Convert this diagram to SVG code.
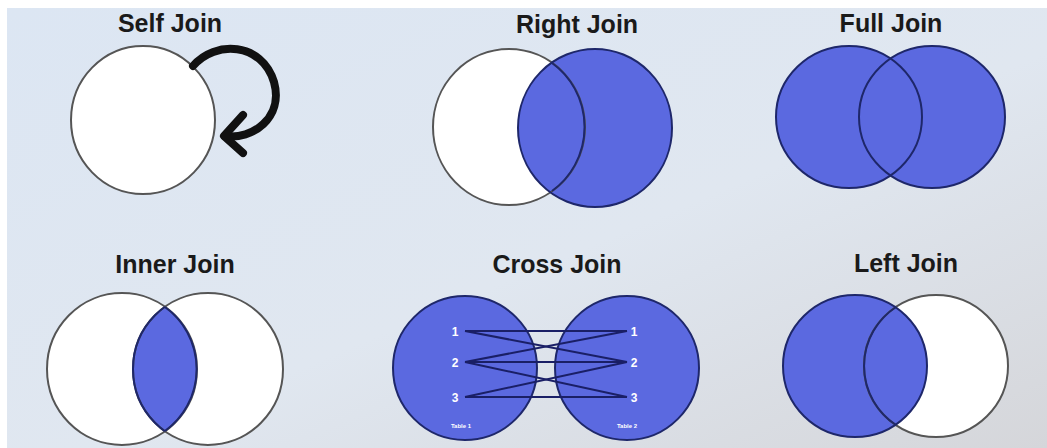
<svg xmlns="http://www.w3.org/2000/svg" width="1047" height="448" viewBox="0 0 1047 448">
  <defs>
    <linearGradient id="bg" x1="0" y1="0" x2="1" y2="1">
      <stop offset="0" stop-color="#dce6f3"/>
      <stop offset="0.55" stop-color="#e0e7f0"/>
      <stop offset="1" stop-color="#d5d6da"/>
    </linearGradient>
    <clipPath id="innerClip"><ellipse cx="122" cy="369" rx="75" ry="76"/></clipPath>
    <style>
      .title { font-family: "Liberation Sans", Arial, sans-serif; font-weight: bold; font-size: 25px; fill: #1a1a1a; text-anchor: middle; }
      .white { fill: #ffffff; }
      .blue { fill: #5b69e0; }
      .wstroke { fill: none; stroke: #555555; stroke-width: 2; }
      .bstroke { fill: none; stroke: #1e276a; stroke-width: 2; }
      .num { font-family: "Liberation Sans", Arial, sans-serif; font-weight: bold; font-size: 12px; fill: #ffffff; text-anchor: middle; }
      .tbl { font-family: "Liberation Sans", Arial, sans-serif; font-weight: bold; font-size: 6px; fill: #ffffff; text-anchor: middle; }
      .cl { stroke: #1a1f66; stroke-width: 2; fill: none; }
    </style>
  </defs>
  <rect width="1047" height="448" fill="#ffffff"/>
  <rect x="7" y="8" width="1040" height="440" fill="url(#bg)"/>

  <g id="self-join">
    <text class="title" x="170" y="32">Self Join</text>
    <ellipse class="white" cx="143" cy="120" rx="72" ry="74"/>
    <ellipse class="wstroke" cx="143" cy="120" rx="72" ry="74"/>
  </g>

  <g id="right-join">
    <text class="title" x="577" y="33">Right Join</text>
    <ellipse class="white" cx="509" cy="127" rx="76" ry="78"/>
    <ellipse class="blue" cx="595" cy="128" rx="77" ry="79"/>
    <ellipse class="wstroke" cx="509" cy="127" rx="76" ry="78"/>
    <ellipse class="bstroke" cx="595" cy="128" rx="77" ry="79"/>
    <path class="bstroke" d="M 552 63 A 76 78 0 0 1 552 191"/>
  </g>

  <g id="full-join">
    <text class="title" x="891" y="32">Full Join</text>
    <ellipse class="blue" cx="849" cy="117" rx="73" ry="71"/>
    <ellipse class="blue" cx="932" cy="117" rx="73" ry="71"/>
    <ellipse class="bstroke" cx="849" cy="117" rx="73" ry="71"/>
    <ellipse class="bstroke" cx="932" cy="117" rx="73" ry="71"/>
  </g>

  <g id="inner-join">
    <text class="title" x="175" y="273">Inner Join</text>
    <ellipse class="white" cx="122" cy="369" rx="75" ry="76"/>
    <ellipse class="white" cx="208" cy="369" rx="75" ry="76"/>
    <ellipse class="blue" cx="208" cy="369" rx="75" ry="76" clip-path="url(#innerClip)"/>
    <ellipse class="wstroke" cx="122" cy="369" rx="75" ry="76"/>
    <ellipse class="wstroke" cx="208" cy="369" rx="75" ry="76"/>
    <g clip-path="url(#innerClip)"><ellipse class="bstroke" cx="208" cy="369" rx="75" ry="76"/></g>
    <path class="bstroke" d="M 165 307 A 75 76 0 0 1 165 431"/>
  </g>

  <g id="cross-join">
    <text class="title" x="557" y="273">Cross Join</text>
    <ellipse class="blue" cx="465" cy="368" rx="72" ry="72"/>
    <ellipse class="blue" cx="627" cy="368" rx="72" ry="72"/>
    <ellipse class="bstroke" cx="465" cy="368" rx="72" ry="72"/>
    <ellipse class="bstroke" cx="627" cy="368" rx="72" ry="72"/>
    <text class="num" x="455" y="336">1</text>
    <text class="num" x="455" y="367">2</text>
    <text class="num" x="455" y="402">3</text>
    <text class="num" x="634" y="336">1</text>
    <text class="num" x="634" y="367">2</text>
    <text class="num" x="634" y="402">3</text>
    <text class="tbl" x="461" y="428">Table 1</text>
    <text class="tbl" x="627" y="428">Table 2</text>
  </g>

  <g id="left-join">
    <text class="title" x="906" y="272">Left Join</text>
    <ellipse class="white" cx="936" cy="366" rx="72" ry="71"/>
    <ellipse class="blue" cx="855" cy="366" rx="72" ry="71"/>
    <ellipse class="wstroke" cx="936" cy="366" rx="72" ry="71"/>
    <ellipse class="bstroke" cx="855" cy="366" rx="72" ry="71"/>
    <path class="bstroke" d="M 896 307 A 72 71 0 0 0 896 425"/>
  </g>

  <g id="connectors">
    <path d="M 193 66 C 215 40, 262 42, 274 82 C 284 118, 252 140, 225 136" fill="none" stroke="#111111" stroke-width="8" stroke-linecap="round"/>
    <path d="M 243 115 L 224 136 L 243 153" fill="none" stroke="#111111" stroke-width="8" stroke-linecap="round" stroke-linejoin="round"/>
    <g class="cl">
      <line x1="465" y1="331" x2="627" y2="331"/>
      <line x1="465" y1="362" x2="627" y2="362"/>
      <line x1="465" y1="397" x2="627" y2="397"/>
      <line x1="465" y1="331" x2="627" y2="362"/>
      <line x1="465" y1="362" x2="627" y2="331"/>
      <line x1="465" y1="362" x2="627" y2="397"/>
      <line x1="465" y1="397" x2="627" y2="362"/>
    </g>
  </g>
</svg>
